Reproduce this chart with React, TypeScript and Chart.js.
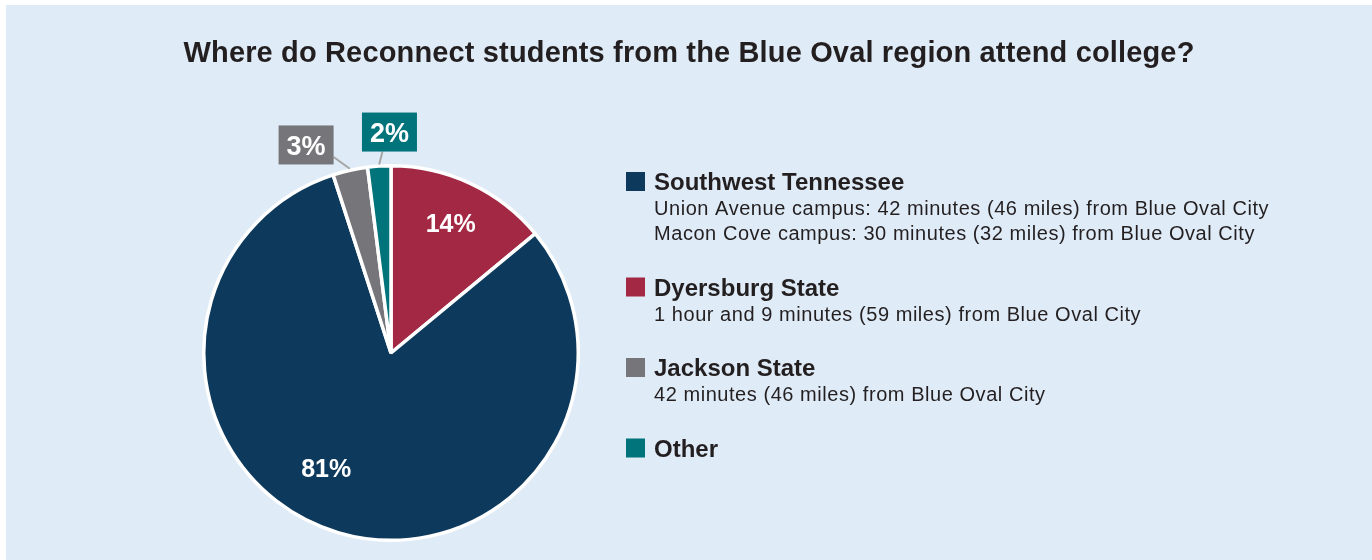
import React, { useEffect, useRef } from "react";
import { Chart, registerables } from "chart.js";

Chart.register(...registerables);

const TITLE = "Where do Reconnect students from the Blue Oval region attend college?";

// chart (drawing) order, clockwise from 12 o'clock
const categories = ["Dyersburg State", "Southwest Tennessee", "Jackson State", "Other"];
const values = [14, 81, 3, 2];
const colors = ["#a22843", "#0d3a5c", "#76767a", "#00747a"];
const descriptions: string[][] = [
  ["1 hour and 9 minutes (59 miles) from Blue Oval City"],
  [
    "Union Avenue campus: 42 minutes (46 miles) from Blue Oval City",
    "Macon Cove campus: 30 minutes (32 miles) from Blue Oval City",
  ],
  ["42 minutes (46 miles) from Blue Oval City"],
  [],
];
const legendOrder = [1, 0, 2, 3];

// label placement styling (inside = false → boxed callout)
const labelInside = [true, true, false, false];
const labelRadiusFrac = [0.766, 0.707, 1.2, 1.18];
const labelAngleShiftDeg = [-0.6, 13.1, -9.6, 3.2];

const FONT = "'Liberation Sans', Arial, Helvetica, sans-serif";
const TEXT = "#231f20";

const labelPlugin = {
  id: "customLabels",
  afterDatasetsDraw(chart: any) {
    const ctx = chart.ctx;
    const meta = chart.getDatasetMeta(0);
    const data = chart.data.datasets[0].data as number[];
    ctx.save();
    meta.data.forEach((arc: any, i: number) => {
      const { x, y, startAngle, endAngle, outerRadius } = arc.getProps(
        ["x", "y", "startAngle", "endAngle", "outerRadius"],
        true
      );
      const mid = (startAngle + endAngle) / 2;
      const ang = mid + (labelAngleShiftDeg[i] * Math.PI) / 180;
      const r = outerRadius * labelRadiusFrac[i];
      const px = x + Math.cos(ang) * r;
      const py = y + Math.sin(ang) * r;
      const text = data[i] + "%";
      if (labelInside[i]) {
        const fs = 25;
        ctx.font = `bold ${fs}px ${FONT}`;
        ctx.fillStyle = "#ffffff";
        ctx.textAlign = "center";
        ctx.textBaseline = "alphabetic";
        ctx.fillText(text, px, py + fs * 0.36);
      } else {
        const fs = 27;
        const bw = 55;
        const bh = 39;
        const edgeR = outerRadius + 1.5;
        const ex = x + Math.cos(mid) * edgeR;
        const ey = y + Math.sin(mid) * edgeR;
        // aim the leader toward a point slightly above box centre, clip to box
        const tx = px;
        const ty = py - bh * 0.2;
        const dx = tx - ex;
        const dy = ty - ey;
        const tX = dx !== 0 ? (Math.abs(dx) - bw / 2) / Math.abs(dx) : -1;
        const tY = dy !== 0 ? (Math.abs(dy) - (bh / 2 - bh * 0.2 * Math.sign(-dy) * -1)) / Math.abs(dy) : -1;
        const t = Math.max(tX, tY, 0);
        ctx.strokeStyle = "#a6a6a6";
        ctx.lineWidth = 2;
        ctx.beginPath();
        ctx.moveTo(ex, ey);
        ctx.lineTo(ex + dx * t, ey + dy * t);
        ctx.stroke();
        ctx.fillStyle = colors[i];
        ctx.fillRect(px - bw / 2, py - bh / 2, bw, bh);
        ctx.font = `bold ${fs}px ${FONT}`;
        ctx.fillStyle = "#ffffff";
        ctx.textAlign = "center";
        ctx.textBaseline = "alphabetic";
        ctx.fillText(text, px, py + fs * 0.36);
      }
    });
    ctx.restore();
  },
};

const sidePlugin = {
  id: "titleAndLegend",
  afterDraw(chart: any) {
    const ctx = chart.ctx;
    const area = chart.chartArea;
    ctx.save();
    // title
    ctx.fillStyle = TEXT;
    ctx.font = `bold 29px ${FONT}`;
    (ctx as any).letterSpacing = "0.15px";
    ctx.textAlign = "center";
    ctx.textBaseline = "alphabetic";
    ctx.fillText(TITLE, chart.width / 2, 57);

    // legend
    ctx.textAlign = "left";
    const sqX = area.right + 46;
    const txX = sqX + 28;
    let y = area.top + 26;
    legendOrder.forEach((idx) => {
      ctx.fillStyle = colors[idx];
      ctx.fillRect(sqX, y - 18, 19, 19);
      ctx.fillStyle = TEXT;
      (ctx as any).letterSpacing = "0px";
      ctx.font = `bold 24px ${FONT}`;
      ctx.fillText(categories[idx], txX, y);
      (ctx as any).letterSpacing = "0.55px";
      ctx.font = `20px ${FONT}`;
      descriptions[idx].forEach((line) => {
        y += 25;
        ctx.fillText(line, txX, y);
      });
      y += 55.5;
    });
    ctx.restore();
  },
};

export default function App() {
  const canvasRef = useRef<HTMLCanvasElement | null>(null);

  useEffect(() => {
    document.body.style.margin = "0";
    const canvas = canvasRef.current;
    if (!canvas) return;
    const chart = new Chart(canvas, {
      type: "pie",
      data: {
        labels: categories,
        datasets: [
          {
            data: values,
            backgroundColor: colors,
            borderColor: "#ffffff",
            borderWidth: 3.5,
          },
        ],
      },
      options: {
        animation: false,
        responsive: true,
        maintainAspectRatio: false,
        layout: { padding: { left: 196, top: 159, right: 792, bottom: 18 } },
        plugins: {
          legend: { display: false },
          title: { display: false },
          tooltip: { enabled: false },
        },
      },
      plugins: [labelPlugin, sidePlugin],
    });
    return () => chart.destroy();
  }, []);

  return (
    <div style={{ padding: "5px 0 0 6px", width: 1366, height: 555 }}>
      <div style={{ width: 1366, height: 555, background: "#dfebf7", position: "relative" }}>
        <canvas ref={canvasRef} />
      </div>
    </div>
  );
}
